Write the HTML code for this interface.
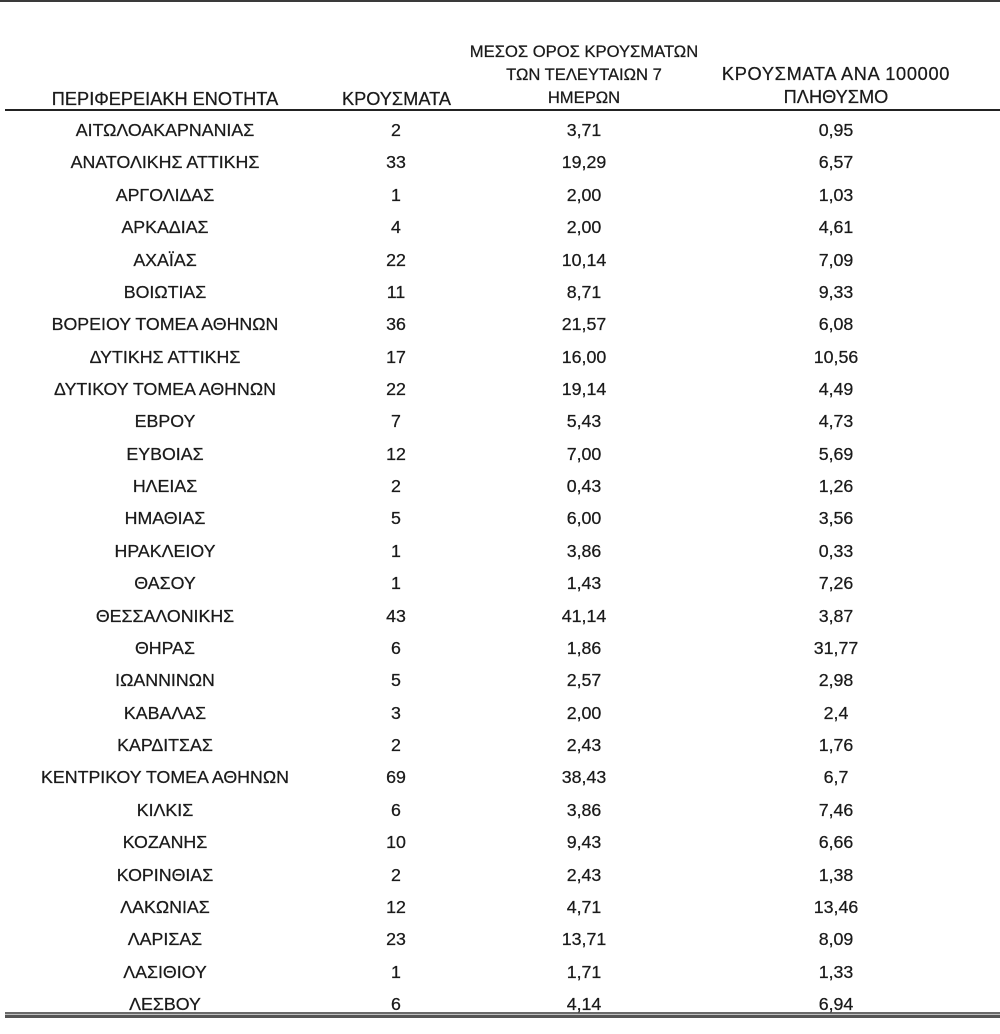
<!DOCTYPE html>
<html><head><meta charset="utf-8">
<style>
html,body{margin:0;padding:0;background:#fff;}
body{width:1000px;height:1034px;position:relative;overflow:hidden;font-family:"Liberation Sans","Noto Sans CJK SC",sans-serif;color:#1a1a1a;-webkit-text-stroke:0.25px #1a1a1a;}
.line{position:absolute;}
.h{position:absolute;width:340px;text-align:center;line-height:23px;height:23px;white-space:nowrap;}
.r{position:absolute;left:0;width:1000px;height:20px;font-size:17.8px;line-height:20px;}
.r span{position:absolute;top:0;width:300px;text-align:center;white-space:nowrap;}
.c1{left:15px}.c2{left:246px}.c3{left:434px}.c4{left:686px}
</style></head><body>
<div class="line" style="left:0;top:0;width:1000px;height:2px;background:#3a3a3a"></div>
<div class="line" style="left:5px;top:109px;width:995px;height:2px;background:#222"></div>
<div class="line" style="left:5px;top:1012px;width:995px;height:2px;background:#6a6a6a"></div>
<div class="line" style="left:5px;top:1014px;width:995px;height:1px;background:#c0c0c0"></div>
<div class="line" style="left:5px;top:1015px;width:995px;height:3px;background:#555"></div>

<div class="h" style="left:-5px;top:88px;font-size:18.2px">ΠΕΡΙΦΕΡΕΙΑΚΗ ΕΝΟΤΗΤΑ</div>
<div class="h" style="left:226.5px;top:88px;font-size:18.2px">ΚΡΟΥΣΜΑΤΑ</div>
<div class="h" style="left:414px;top:40px;font-size:16.6px">ΜΕΣΟΣ ΟΡΟΣ ΚΡΟΥΣΜΑΤΩΝ</div>
<div class="h" style="left:414px;top:63px;font-size:16.6px">ΤΩΝ ΤΕΛΕΥΤΑΙΩΝ 7</div>
<div class="h" style="left:414px;top:86px;font-size:16.6px">ΗΜΕΡΩΝ</div>
<div class="h" style="left:666px;top:63px;font-size:18.2px;letter-spacing:0.7px">ΚΡΟΥΣΜΑΤΑ ΑΝΑ 100000</div>
<div class="h" style="left:666px;top:86px;font-size:18.2px">ΠΛΗΘΥΣΜΟ</div>

<div class="r" style="top:120px"><span class="c1">ΑΙΤΩΛΟΑΚΑΡΝΑΝΙΑΣ</span><span class="c2">2</span><span class="c3">3,71</span><span class="c4">0,95</span></div>
<div class="r" style="top:152.4px"><span class="c1">ΑΝΑΤΟΛΙΚΗΣ ΑΤΤΙΚΗΣ</span><span class="c2">33</span><span class="c3">19,29</span><span class="c4">6,57</span></div>
<div class="r" style="top:184.7px"><span class="c1">ΑΡΓΟΛΙΔΑΣ</span><span class="c2">1</span><span class="c3">2,00</span><span class="c4">1,03</span></div>
<div class="r" style="top:217.1px"><span class="c1">ΑΡΚΑΔΙΑΣ</span><span class="c2">4</span><span class="c3">2,00</span><span class="c4">4,61</span></div>
<div class="r" style="top:249.5px"><span class="c1">ΑΧΑΪΑΣ</span><span class="c2">22</span><span class="c3">10,14</span><span class="c4">7,09</span></div>
<div class="r" style="top:281.9px"><span class="c1">ΒΟΙΩΤΙΑΣ</span><span class="c2">11</span><span class="c3">8,71</span><span class="c4">9,33</span></div>
<div class="r" style="top:314.2px"><span class="c1">ΒΟΡΕΙΟΥ ΤΟΜΕΑ ΑΘΗΝΩΝ</span><span class="c2">36</span><span class="c3">21,57</span><span class="c4">6,08</span></div>
<div class="r" style="top:346.6px"><span class="c1">ΔΥΤΙΚΗΣ ΑΤΤΙΚΗΣ</span><span class="c2">17</span><span class="c3">16,00</span><span class="c4">10,56</span></div>
<div class="r" style="top:379px"><span class="c1">ΔΥΤΙΚΟΥ ΤΟΜΕΑ ΑΘΗΝΩΝ</span><span class="c2">22</span><span class="c3">19,14</span><span class="c4">4,49</span></div>
<div class="r" style="top:411.3px"><span class="c1">ΕΒΡΟΥ</span><span class="c2">7</span><span class="c3">5,43</span><span class="c4">4,73</span></div>
<div class="r" style="top:443.7px"><span class="c1">ΕΥΒΟΙΑΣ</span><span class="c2">12</span><span class="c3">7,00</span><span class="c4">5,69</span></div>
<div class="r" style="top:476.1px"><span class="c1">ΗΛΕΙΑΣ</span><span class="c2">2</span><span class="c3">0,43</span><span class="c4">1,26</span></div>
<div class="r" style="top:508.4px"><span class="c1">ΗΜΑΘΙΑΣ</span><span class="c2">5</span><span class="c3">6,00</span><span class="c4">3,56</span></div>
<div class="r" style="top:540.8px"><span class="c1">ΗΡΑΚΛΕΙΟΥ</span><span class="c2">1</span><span class="c3">3,86</span><span class="c4">0,33</span></div>
<div class="r" style="top:573.2px"><span class="c1">ΘΑΣΟΥ</span><span class="c2">1</span><span class="c3">1,43</span><span class="c4">7,26</span></div>
<div class="r" style="top:605.6px"><span class="c1">ΘΕΣΣΑΛΟΝΙΚΗΣ</span><span class="c2">43</span><span class="c3">41,14</span><span class="c4">3,87</span></div>
<div class="r" style="top:637.9px"><span class="c1">ΘΗΡΑΣ</span><span class="c2">6</span><span class="c3">1,86</span><span class="c4">31,77</span></div>
<div class="r" style="top:670.3px"><span class="c1">ΙΩΑΝΝΙΝΩΝ</span><span class="c2">5</span><span class="c3">2,57</span><span class="c4">2,98</span></div>
<div class="r" style="top:702.7px"><span class="c1">ΚΑΒΑΛΑΣ</span><span class="c2">3</span><span class="c3">2,00</span><span class="c4">2,4</span></div>
<div class="r" style="top:735px"><span class="c1">ΚΑΡΔΙΤΣΑΣ</span><span class="c2">2</span><span class="c3">2,43</span><span class="c4">1,76</span></div>
<div class="r" style="top:767.4px"><span class="c1">ΚΕΝΤΡΙΚΟΥ ΤΟΜΕΑ ΑΘΗΝΩΝ</span><span class="c2">69</span><span class="c3">38,43</span><span class="c4">6,7</span></div>
<div class="r" style="top:799.8px"><span class="c1">ΚΙΛΚΙΣ</span><span class="c2">6</span><span class="c3">3,86</span><span class="c4">7,46</span></div>
<div class="r" style="top:832.1px"><span class="c1">ΚΟΖΑΝΗΣ</span><span class="c2">10</span><span class="c3">9,43</span><span class="c4">6,66</span></div>
<div class="r" style="top:864.5px"><span class="c1">ΚΟΡΙΝΘΙΑΣ</span><span class="c2">2</span><span class="c3">2,43</span><span class="c4">1,38</span></div>
<div class="r" style="top:896.9px"><span class="c1">ΛΑΚΩΝΙΑΣ</span><span class="c2">12</span><span class="c3">4,71</span><span class="c4">13,46</span></div>
<div class="r" style="top:929.3px"><span class="c1">ΛΑΡΙΣΑΣ</span><span class="c2">23</span><span class="c3">13,71</span><span class="c4">8,09</span></div>
<div class="r" style="top:961.6px"><span class="c1">ΛΑΣΙΘΙΟΥ</span><span class="c2">1</span><span class="c3">1,71</span><span class="c4">1,33</span></div>
<div class="r" style="top:994px"><span class="c1">ΛΕΣΒΟΥ</span><span class="c2">6</span><span class="c3">4,14</span><span class="c4">6,94</span></div>
</body></html>
